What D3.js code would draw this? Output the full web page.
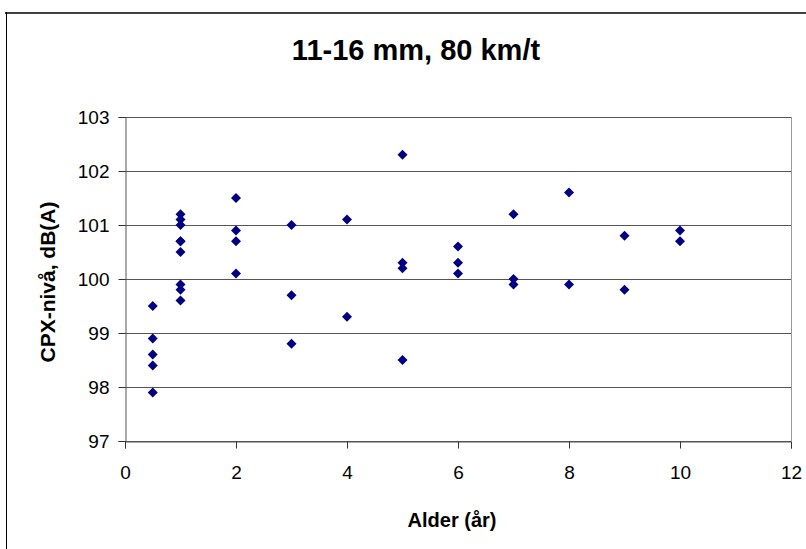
<!DOCTYPE html>
<html><head><meta charset="utf-8">
<script src="https://cdn.jsdelivr.net/npm/d3@7"></script>
<style>body{margin:0;background:#fff}svg{display:block}text{font-family:Arial,"Liberation Sans",sans-serif}</style>
</head><body><svg id="c" width="806" height="549"></svg>
<script>
const title = "11-16 mm, 80 km/t";
const xTitle = "Alder (år)";
const yTitle = "CPX-nivå, dB(A)";
const xTicks = [0,2,4,6,8,10,12];
const yTicks = [97,98,99,100,101,102,103];
const ages = [0.5,0.5,0.5,0.5,0.5, 1,1,1,1,1,1,1,1,1, 2,2,2,2, 3,3,3, 4,4, 5,5,5,5, 6,6,6, 7,7,7, 8,8, 9,9, 10,10];
const levels = [99.5,98.9,98.6,98.4,97.9, 101.2,101.1,101.0,100.7,100.5,99.9,99.8,99.6,100.7, 101.5,100.9,100.7,100.1, 101.0,99.7,98.8, 101.1,99.3, 102.3,100.3,100.2,98.5, 100.6,100.3,100.1, 101.2,100.0,99.9, 101.6,99.9, 100.8,99.8, 100.9,100.7];

const svg = d3.select("#c");
const L=125, R=791, T=117, B=441;
const x = d3.scaleLinear().domain([0,12]).range([L,R]);
const y = d3.scaleLinear().domain([97,103]).range([B,T]);

// outer frame
svg.append("line").attr("x1",5).attr("x2",806).attr("y1",13).attr("y2",13).attr("stroke","#404040").attr("stroke-width",2);
svg.append("line").attr("x1",6.5).attr("x2",6.5).attr("y1",12).attr("y2",549).attr("stroke","#000").attr("stroke-width",1);

// gridlines
svg.append("g").selectAll("line").data(yTicks).join("line")
  .attr("x1",L).attr("x2",R).attr("y1",d=>Math.round(y(d))+0.5).attr("y2",d=>Math.round(y(d))+0.5)
  .attr("stroke","#555").attr("stroke-width",1);
// right plot border
svg.append("line").attr("x1",R+0.5).attr("x2",R+0.5).attr("y1",T).attr("y2",B).attr("stroke","#999");

// axes
const yAxis = svg.append("g").attr("transform",`translate(${L+0.5},0)`)
  .call(d3.axisLeft(y).tickValues(yTicks).tickSize(7).tickPadding(9).tickFormat(d3.format("d")));
const xAxis = svg.append("g").attr("transform",`translate(0,${Math.round(B)+0.5})`)
  .call(d3.axisBottom(x).tickValues(xTicks).tickSize(7).tickPadding(17).tickFormat(d3.format("d")));
[yAxis,xAxis].forEach(g=>{
  g.select(".domain").attr("stroke","#555");
  g.selectAll(".tick line").attr("stroke","#333");
  g.selectAll(".tick text").attr("font-size",19).attr("fill","#000").attr("font-family","Arial,'Liberation Sans',sans-serif");
});

// points
svg.append("g").selectAll("path").data(ages.map((a,i)=>[a,levels[i]])).join("path")
  .attr("d", d3.symbol().type(d3.symbolSquare).size(50))
  .attr("transform",d=>`translate(${x(d[0])},${y(d[1])}) rotate(45)`)
  .attr("fill","#000080");

// titles
svg.append("text").attr("x",416).attr("y",60).attr("text-anchor","middle").attr("font-weight","bold").attr("font-size",29).text(title);
svg.append("text").attr("x",452).attr("y",527).attr("text-anchor","middle").attr("font-weight","bold").attr("font-size",20).text(xTitle);
svg.append("text").attr("transform","translate(55,282) rotate(-90)").attr("text-anchor","middle").attr("font-weight","bold").attr("font-size",21).text(yTitle);
</script></body></html>
